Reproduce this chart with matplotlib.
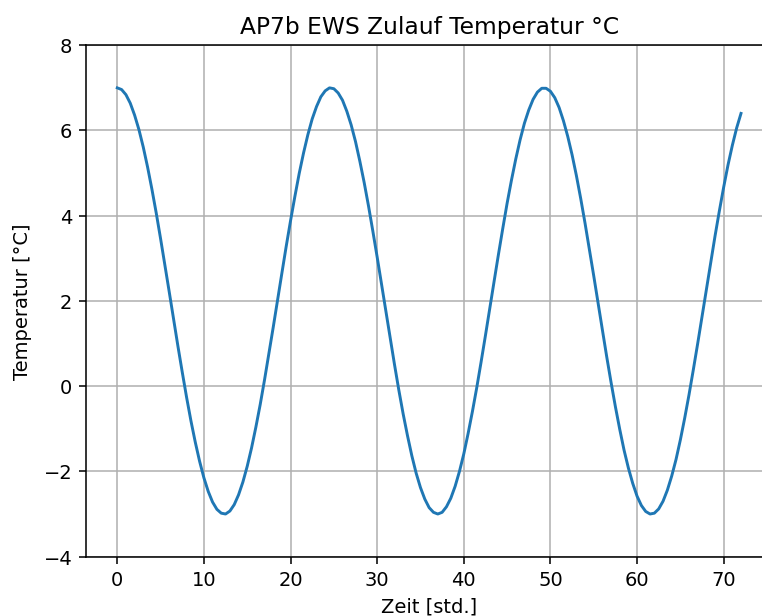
import numpy as np
from matplotlib import pyplot as plt

# Stunden seit Start, halbstündlich
zeit = np.arange(0, 72.5, 0.5)

# Zulauftemperatur [°C] (alle 0,5 h)
temperatur: list[float] = [
    7.00, 6.96, 6.84, 6.64, 6.36, 6.02, 5.61, 5.14, 4.62, 4.06,
    3.46, 2.84, 2.21, 1.57, 0.94, 0.33, -0.26, -0.81, -1.31, -1.76,
    -2.15, -2.47, -2.72, -2.89, -2.98, -3.00, -2.93, -2.78, -2.55, -2.25,
    -1.88, -1.45, -0.96, -0.43, 0.15, 0.76, 1.38, 2.02, 2.65, 3.28,
    3.88, 4.45, 4.99, 5.47, 5.90, 6.27, 6.56, 6.79, 6.93, 7.00,
    6.98, 6.88, 6.71, 6.45, 6.13, 5.74, 5.28, 4.78, 4.23, 3.64,
    3.03, 2.40, 1.76, 1.13, 0.51, -0.09, -0.65, -1.16, -1.63, -2.04,
    -2.38, -2.65, -2.85, -2.96, -3.00, -2.96, -2.83, -2.63, -2.35, -2.00,
    -1.59, -1.11, -0.59, -0.03, 0.57, 1.19, 1.83, 2.46, 3.09, 3.70,
    4.29, 4.83, 5.33, 5.78, 6.17, 6.48, 6.73, 6.90, 6.99, 6.99,
    6.92, 6.77, 6.54, 6.23, 5.86, 5.43, 4.94, 4.40, 3.82, 3.21,
    2.59, 1.95, 1.32, 0.69, 0.09, -0.48, -1.01, -1.50, -1.92, -2.28,
    -2.58, -2.80, -2.94, -3.00, -2.98, -2.88, -2.70, -2.44, -2.11, -1.72,
    -1.26, -0.75, -0.20, 0.39, 1.00, 1.63, 2.27, 2.90, 3.52, 4.11,
    4.67, 5.19, 5.65, 6.06, 6.40,
]

titel: str = "AP7b EWS Zulauf Temperatur °C"
y_grenzen: tuple[int, int] = (-4, 8)


def plot(outputFilePath: str) -> None:
    dpi = 140
    # +0.5 px, damit Agg beim Abschneiden wirklich 762x616 erzeugt
    fig = plt.figure(figsize=(762.5 / dpi, 616.5 / dpi), dpi=dpi)
    # Originalbild ist rechts abgeschnitten, daher reicht die Achse über den Rand
    ax = fig.add_axes([0.1129, 0.0963, 0.8998, 0.8295])

    ax.plot(zeit, temperatur, color="tab:blue")
    ax.set_ylim(*y_grenzen)
    ax.grid(True)
    ax.spines["right"].set_visible(False)

    ax.set_title(titel)
    ax.set_xlabel("Zeit [std.]")
    ax.set_ylabel("Temperatur [°C]", labelpad=6)

    fig.savefig(outputFilePath, dpi=dpi)


def main() -> None:
    plot(outputFilePath="out.png")


if __name__ == "__main__":
    main()
